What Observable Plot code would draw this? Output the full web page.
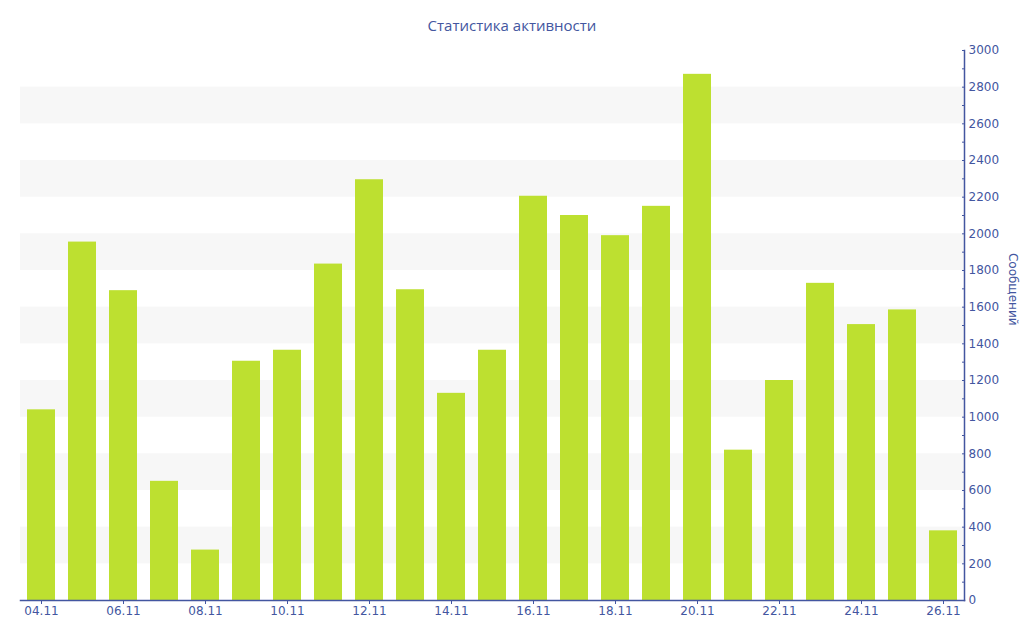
<!DOCTYPE html>
<html>
<head>
<meta charset="utf-8">
<script src="https://cdn.jsdelivr.net/npm/d3@7"></script>
<script src="https://cdn.jsdelivr.net/npm/@observablehq/plot@0.6"></script>
<style>
  body { margin: 0; background: #fff; }
  #title { box-sizing: border-box; height: 40px; padding-top: 15px; line-height: 20px; text-align: center; font: 15px "Open Sans", sans-serif; color: #4356a0; }
</style>
</head>
<body>
<div id="title">Статистика активности</div>
<div id="chart"></div>
<script>
const dates = ["04.11","05.11","06.11","07.11","08.11","09.11","10.11","11.11","12.11","13.11","14.11","15.11","16.11","17.11","18.11","19.11","20.11","21.11","22.11","23.11","24.11","25.11","26.11"];
const messages = [1040,1955,1690,650,275,1305,1365,1835,2295,1695,1130,1365,2205,2100,1990,2150,2870,820,1200,1730,1505,1585,380];
const labeledDates = ["04.11","06.11","08.11","10.11","12.11","14.11","16.11","18.11","20.11","22.11","24.11","26.11"];
const yTicks = d3.range(0, 3001, 200);
const yMinor = d3.range(100, 3000, 200);
const bandStarts = [200, 600, 1000, 1400, 1800, 2200, 2600];

const data = dates.map((d, i) => ({date: d, value: messages[i]}));
const bands = bandStarts.map(s => ({y1: s, y2: s + 200}));
const blue = "#4356a0";

const chart = Plot.plot({
  width: 1024,
  height: 600,
  marginTop: 10,
  marginBottom: 40,
  marginLeft: 20,
  marginRight: 60,
  style: {fontFamily: "DejaVu Sans, sans-serif", fontSize: "12px", color: blue, background: "#fff"},
  x: {type: "band", domain: dates, paddingInner: 0.32, paddingOuter: 0.16, label: null},
  y: {domain: [0, 3000], label: null},
  marks: [
    Plot.rect(bands, {y1: "y1", y2: "y2", fill: "#f7f7f7"}),
    Plot.barY(data, {x: "date", y: "value", fill: "#bde030"}),
    Plot.frame({anchor: "bottom", stroke: blue, strokeWidth: 1.5}),
    Plot.frame({anchor: "right", stroke: blue, strokeWidth: 1.5}),
    Plot.axisX({ticks: labeledDates, tickSize: 4, tickPadding: 2, stroke: blue, fill: blue, fontSize: 12}),
    Plot.axisY({anchor: "right", ticks: yTicks, tickFormat: "d", tickSize: 0, tickPadding: 4, fill: blue, fontSize: 12, label: null}),
    Plot.axisY({anchor: "right", ticks: yTicks, text: null, tickSize: 3, dx: -3, stroke: blue, label: null}),
    Plot.axisY({anchor: "right", ticks: yMinor, text: null, tickSize: 3, dx: -3, stroke: blue, label: null}),
    Plot.text(["Сообщений"], {frameAnchor: "right", dx: 48, rotate: 90, fill: blue, fontSize: 12})
  ]
});
document.getElementById("chart").appendChild(chart);
</script>
</body>
</html>
